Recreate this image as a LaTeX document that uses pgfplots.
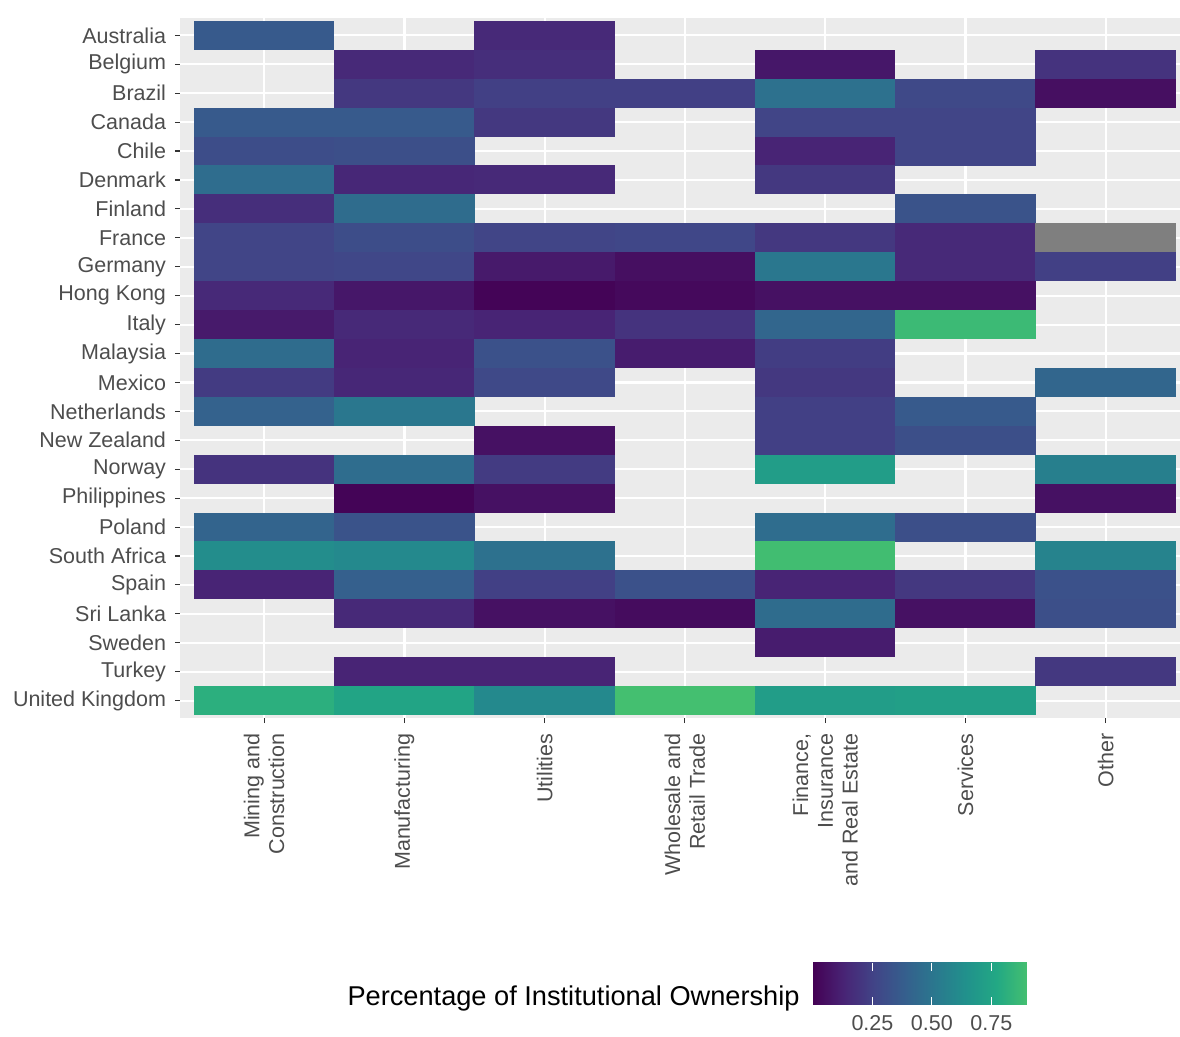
\documentclass[border=0pt]{standalone}
\usepackage{pgfplots}
\usepackage{pgfplotstable}
\pgfplotsset{compat=1.18}
\usepackage{fontspec}
\setmainfont{Liberation Sans}
\definecolor{panelgray}{HTML}{EBEBEB}
\definecolor{ticktext}{HTML}{4D4D4D}
\definecolor{tickline}{HTML}{333333}
\definecolor{nagray}{HTML}{7F7F7F}
\pgfdeclareplotmark{tile}{\pgfpathrectangle{\pgfpoint{-35.1pt}{-7.26pt}}{\pgfpoint{70.2pt}{14.52pt}}\pgfusepathqfill}
\pgfplotstableread{
row col v
1 1 0.36
1 3 0.15
2 2 0.15
2 3 0.17
2 5 0.08
2 7 0.19
3 2 0.21
3 3 0.24
3 4 0.24
3 5 0.48
3 6 0.28
3 7 0.05
4 1 0.36
4 2 0.36
4 3 0.21
4 5 0.26
4 6 0.26
5 1 0.30
5 2 0.31
5 5 0.13
5 6 0.26
6 1 0.46
6 2 0.14
6 3 0.15
6 5 0.21
7 1 0.17
7 2 0.45
7 6 0.33
8 1 0.26
8 2 0.30
8 3 0.26
8 4 0.27
8 5 0.21
8 6 0.15
9 1 0.26
9 2 0.27
9 3 0.09
9 4 0.05
9 5 0.51
9 6 0.15
9 7 0.24
10 1 0.15
10 2 0.08
10 3 0.01
10 4 0.03
10 5 0.06
10 6 0.06
11 1 0.09
11 2 0.15
11 3 0.13
11 4 0.19
11 5 0.42
11 6 0.87
12 1 0.45
12 2 0.13
12 3 0.32
12 4 0.10
12 5 0.23
13 1 0.22
13 2 0.14
13 3 0.28
13 5 0.21
13 7 0.42
14 1 0.40
14 2 0.51
14 5 0.24
14 6 0.36
15 3 0.06
15 5 0.24
15 6 0.31
16 1 0.19
16 2 0.46
16 3 0.22
16 5 0.71
16 7 0.55
17 2 0.01
17 3 0.06
17 7 0.06
18 1 0.41
18 2 0.33
18 5 0.46
18 6 0.31
19 1 0.62
19 2 0.60
19 3 0.48
19 5 0.89
19 7 0.57
20 1 0.13
20 2 0.39
20 3 0.24
20 4 0.32
20 5 0.13
20 6 0.21
20 7 0.32
21 2 0.15
21 3 0.06
21 4 0.04
21 5 0.45
21 6 0.06
21 7 0.31
22 5 0.10
23 2 0.13
23 3 0.13
23 7 0.21
24 1 0.81
24 2 0.75
24 3 0.60
24 4 0.90
24 5 0.71
24 6 0.72
}\heatdata
\begin{document}
\begin{tikzpicture}
\useasboundingbox (-90pt,-159.5pt) rectangle (500pt,359pt);
\begin{axis}[
  at={(0pt,0pt)}, anchor=south west,
  scale only axis, width=500pt, height=350pt,
  xmin=0.4, xmax=7.53, ymin=0.4, ymax=24.6,
  axis background/.style={fill=panelgray},
  axis line style={draw=none},
  xtick={1,...,7}, ytick={1,...,24},
  xticklabels={{Mining and\\Construction},Manufacturing,Utilities,{Wholesale and\\Retail Trade},{Finance,\\Insurance\\and Real Estate},Services,Other},
  yticklabels={United Kingdom,Turkey,Sweden,Sri Lanka,Spain,South Africa,Poland,Philippines,Norway,New Zealand,Netherlands,Mexico,Malaysia,Italy,Hong Kong,Germany,France,Finland,Denmark,Chile,Canada,Brazil,Belgium,Australia},
  grid=major, major grid style={white, line width=1.1pt},
  tick align=outside, major tick length=2.6pt,
  tick style={color=tickline, line width=0.55pt},
  xtick pos=bottom, ytick pos=left,
  yticklabel style={font=\fontsize{10.75}{12}\selectfont, text=ticktext, inner sep=0pt, xshift=-4.2pt},
  xticklabel shift=5pt,
  xticklabel style={font=\fontsize{10.75}{12.4}\selectfont, text=ticktext, inner sep=0pt, rotate=90, anchor=east, align=right},
  colormap={vir}{rgb255=(68,1,84) rgb255=(72,36,117) rgb255=(65,68,135) rgb255=(53,95,141) rgb255=(42,120,142) rgb255=(33,145,140) rgb255=(34,168,132) rgb255=(68,191,112)},
  point meta min=0, point meta max=0.9,
  colorbar horizontal,
  colorbar/width=21pt,
  colorbar style={
    at={(0.633,-0.35)}, anchor=north west,
    scale only axis, width=107pt,
    axis background/.style={}, grid=none,
    axis line style={draw=none},
    xtick={0.25,0.5,0.75}, xticklabels={0.25,0.50,0.75},
    tick align=inside, major tick length=4pt,
    xtick style={color=white, line width=0.6pt},
    xtick pos=both, xticklabel pos=lower,
    xticklabel shift=0pt,
    xticklabel style={font=\fontsize{10.75}{12}\selectfont, text=ticktext, inner sep=0pt, anchor=north, yshift=-5pt, rotate=0},
  },
]
\addplot[scatter, only marks, mark=tile, point meta=explicit] table[x=col, y expr=25-\thisrow{row}, meta=v] {\heatdata};
\addplot[only marks, mark=tile, fill=nagray, draw=nagray] coordinates {(7,17)};
\end{axis}
\node[anchor=base east, inner sep=0pt, font=\fontsize{13.6}{16}\selectfont] at (310pt,-144pt) {Percentage of Institutional Ownership};
\end{tikzpicture}
\end{document}
